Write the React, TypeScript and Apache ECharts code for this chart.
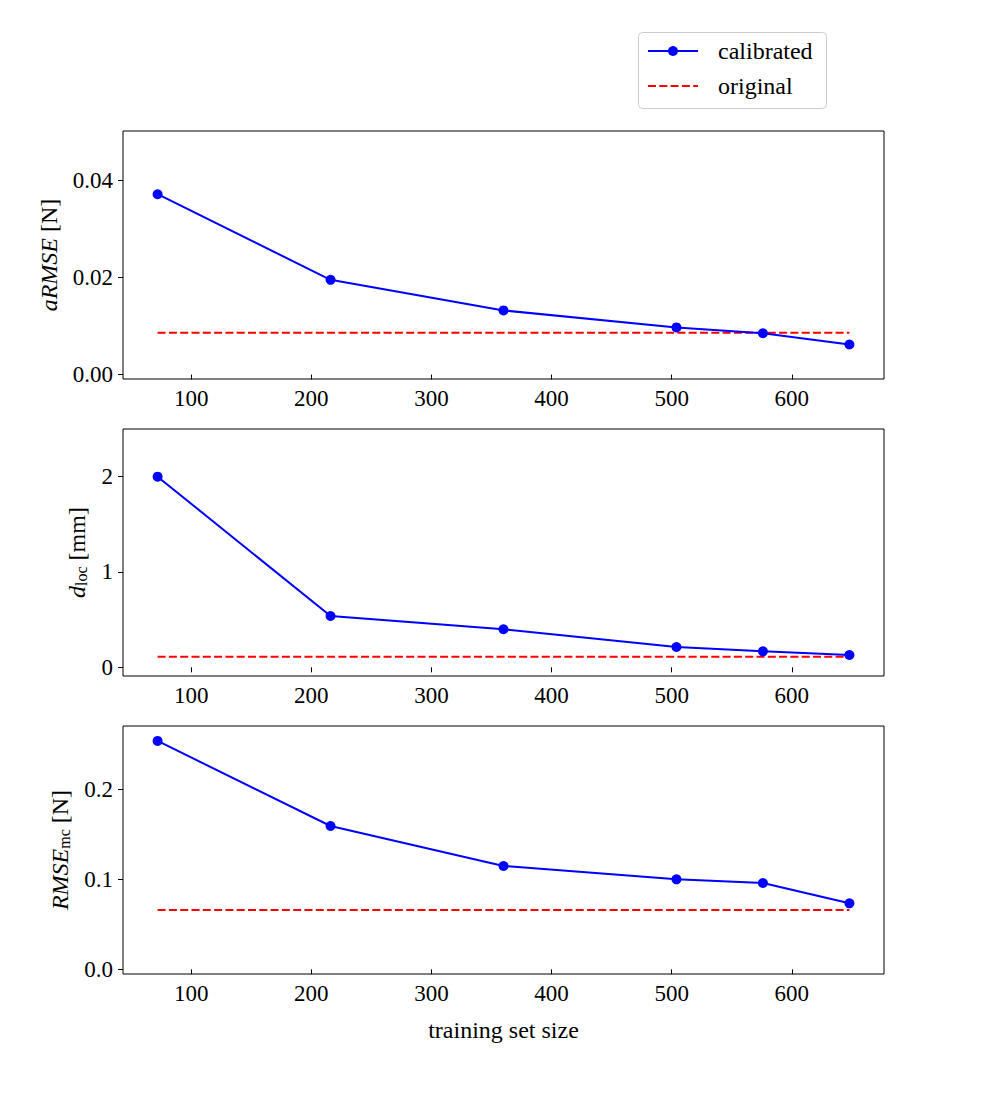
import React, { useEffect, useRef } from "react";
import * as echarts from "echarts";

// Training set sizes on the shared x axis
const trainingSizes = [72, 216, 360, 504, 576, 648];
const xTicks = [100, 200, 300, 400, 500, 600];

// aRMSE [N]
const armseCalibrated = [0.0371, 0.0195, 0.0132, 0.0097, 0.0085, 0.0062];
const armseOriginal = 0.0086;
const armseTicks = [0, 0.02, 0.04];

// d_loc [mm]
const dlocCalibrated = [2.0, 0.538, 0.399, 0.213, 0.168, 0.129];
const dlocOriginal = 0.11;
const dlocTicks = [0, 1, 2];

// RMSE_mc [N]
const rmseMcCalibrated = [0.2537, 0.1592, 0.1148, 0.1, 0.0959, 0.0733];
const rmseMcOriginal = 0.0659;
const rmseMcTicks = [0, 0.1, 0.2];

const FONT = "Liberation Serif";
const TICK_FS = 23;
const NAME_FS = 24;
const BLUE = "#0000ff";
const RED = "#ff0000";

type Panel = {
  calibrated: number[];
  original: number;
  ticks: number[];
  decimals: number;
  min: number;
  max: number;
  name: string;
  nameGap: number;
  top: number;
  height: number;
};

const panels: Panel[] = [
  {
    calibrated: armseCalibrated,
    original: armseOriginal,
    ticks: armseTicks,
    decimals: 2,
    min: -0.0009,
    max: 0.0501,
    name: "{it|aRMSE} [N]",
    nameGap: 62,
    top: 131,
    height: 248,
  },
  {
    calibrated: dlocCalibrated,
    original: dlocOriginal,
    ticks: dlocTicks,
    decimals: 0,
    min: -0.091,
    max: 2.5,
    name: "{it|d}{sub|loc} [mm]",
    nameGap: 34,
    top: 429,
    height: 247,
  },
  {
    calibrated: rmseMcCalibrated,
    original: rmseMcOriginal,
    ticks: rmseMcTicks,
    decimals: 1,
    min: -0.0052,
    max: 0.2703,
    name: "{it|RMSE}{sub|mc} [N]",
    nameGap: 51,
    top: 726,
    height: 248,
  },
];

export default function App() {
  const ref = useRef<HTMLDivElement>(null);

  useEffect(() => {
    if (!ref.current) return;
    const chart = echarts.init(ref.current, null, { renderer: "svg" });

    const tickText = { fontFamily: FONT, fontSize: TICK_FS, color: "#000" };
    const nameText = { fontFamily: FONT, fontSize: NAME_FS, color: "#000" };
    const first = trainingSizes[0];
    const last = trainingSizes[trainingSizes.length - 1];

    const grid = panels.map((p) => ({
      left: 123,
      width: 761,
      top: p.top,
      height: p.height,
      show: true,
      borderColor: "#000",
      borderWidth: 1,
      backgroundColor: "transparent",
    }));

    const xAxis = panels.map((p, i) => ({
      type: "value",
      gridIndex: i,
      min: 43.2,
      max: 676.8,
      splitLine: { show: false },
      axisLine: { show: false },
      axisTick: {
        show: true,
        inside: false,
        length: 5,
        customValues: xTicks,
        lineStyle: { color: "#000", width: 1 },
      },
      axisLabel: {
        ...tickText,
        margin: 8,
        customValues: xTicks,
        formatter: (v: number) => String(v),
      },
      name: i === panels.length - 1 ? "training set size" : "",
      nameLocation: "middle",
      nameGap: 44,
      nameTextStyle: nameText,
    }));

    const yAxis = panels.map((p, i) => ({
      type: "value",
      gridIndex: i,
      min: p.min,
      max: p.max,
      splitLine: { show: false },
      axisLine: { show: false },
      axisTick: {
        show: true,
        length: 5,
        customValues: p.ticks,
        lineStyle: { color: "#000", width: 1 },
      },
      axisLabel: {
        ...tickText,
        margin: 10,
        customValues: p.ticks,
        formatter: (v: number) => v.toFixed(p.decimals),
      },
      name: p.name,
      nameLocation: "middle",
      nameRotate: 90,
      nameGap: p.nameGap,
      nameTextStyle: {
        ...nameText,
        rich: {
          it: { fontFamily: FONT, fontSize: NAME_FS, fontStyle: "italic", color: "#000" },
          sub: {
            fontFamily: FONT,
            fontSize: 16,
            color: "#000",
            verticalAlign: "bottom",
            lineHeight: 16,
          },
        },
      },
    }));

    const series: any[] = [];
    panels.forEach((p, i) => {
      series.push({
        name: "calibrated",
        type: "line",
        xAxisIndex: i,
        yAxisIndex: i,
        data: trainingSizes.map((x, k) => [x, p.calibrated[k]]),
        symbol: "circle",
        symbolSize: 10,
        showSymbol: true,
        lineStyle: { color: BLUE, width: 2 },
        itemStyle: { color: BLUE },
        z: 3,
      });
      series.push({
        name: "original",
        type: "line",
        xAxisIndex: i,
        yAxisIndex: i,
        data: [
          [first, p.original],
          [last, p.original],
        ],
        symbol: "none",
        lineStyle: { color: RED, width: 2, type: [8, 3.3] },
        z: 2,
      });
    });

    const legendFont = `${NAME_FS}px "${FONT}"`;
    const graphic = [
      {
        type: "rect",
        shape: { x: 638.5, y: 32.5, width: 188, height: 76, r: 4 },
        style: { fill: "#fff", stroke: "#cccccc", lineWidth: 1 },
      },
      {
        type: "line",
        shape: { x1: 648, y1: 51, x2: 698, y2: 51 },
        style: { stroke: BLUE, lineWidth: 2 },
      },
      {
        type: "circle",
        shape: { cx: 673, cy: 51, r: 5 },
        style: { fill: BLUE },
      },
      {
        type: "text",
        style: {
          text: "calibrated",
          x: 718,
          y: 51,
          font: legendFont,
          fill: "#000",
          verticalAlign: "middle",
        },
      },
      {
        type: "line",
        shape: { x1: 648, y1: 86, x2: 698, y2: 86 },
        style: { stroke: RED, lineWidth: 2, lineDash: [8, 3.3] },
      },
      {
        type: "text",
        style: {
          text: "original",
          x: 718,
          y: 86,
          font: legendFont,
          fill: "#000",
          verticalAlign: "middle",
        },
      },
    ];

    chart.setOption({
      animation: false,
      backgroundColor: "#fff",
      grid,
      xAxis,
      yAxis,
      series,
      graphic,
    });

    return () => chart.dispose();
  }, []);

  return <div ref={ref} style={{ width: 982, height: 1094, margin: -8 }} />;
}
